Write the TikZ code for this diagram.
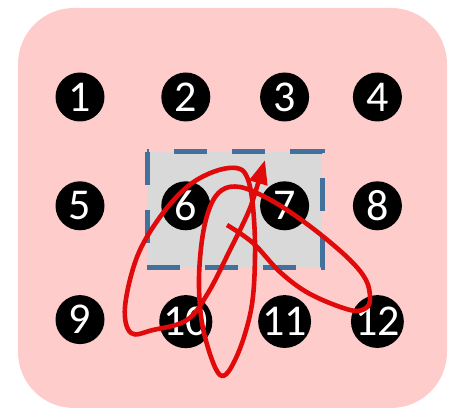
\documentclass[tikz,border=0pt]{standalone}
\usepackage{fontspec}
\setmainfont{Carlito}
\usetikzlibrary{positioning,arrows.meta}
\definecolor{padpink}{RGB}{255,204,204}
\definecolor{selgray}{RGB}{217,217,217}
\definecolor{selblue}{RGB}{65,113,156}
\definecolor{strokered}{RGB}{225,10,10}

\begin{document}
\begin{tikzpicture}[x=0.5pt, y=-0.5pt,
  dot/.style={circle, fill=black, text=white, minimum size=24.5pt, inner sep=0pt,
    font=\fontsize{22}{22}\selectfont},
  selbox/.style={draw=selblue, fill=selgray, line width=2.5pt, dash pattern=on 16.5pt off 12.5pt},
  stroke/.style={draw=strokered, line width=2.3pt, -{Triangle[length=12pt,width=9pt]}}]
  \useasboundingbox (0,0) rectangle (456,410);
  \fill[padpink, rounded corners=28pt] (18,8) rectangle (447,408);
  \draw[selbox] (147,152) rectangle (322,268);

  \node[dot] (n1) at (80,97) {1};
  \node[dot] (n2) [right=28pt of n1] {2};
  \node[dot] (n3) [right=24.5pt of n2] {3};
  \node[dot] (n4) [right=21.5pt of n3] {4};

  \node[dot] (n5) [below=29.5pt of n1] {5};
  \node[dot] (n6) [below=29.5pt of n2] {6};
  \node[dot] (n7) [below=29.5pt of n3] {7};
  \node[dot] (n8) [below=29.5pt of n4] {8};

  \node[dot] (n9) [below=32pt of n5] {9};
  \node[dot] (n10) [below=32pt of n6] {10};
  \node[dot] (n11) [below=32pt of n7] {11};
  \node[dot] (n12) [below=32pt of n8] {12};

  \draw[stroke] plot[smooth, tension=0.6] coordinates {
    (227,225) (253,243) (280,272) (310,294) (350,310) (366,308) (370,298)
    (366,280) (350,260) (320,234) (290,212) (265,197) (240,187) (222,190)
    (210,207) (202,240) (199,287) (204,333) (220,375) (236,358) (251,310)
    (255,257) (253,207) (247,177) (236,168) (213,172) (187,187) (160,217)
    (137,257) (125,307) (131,333) (153,330) (187,320) (208,293) (230,250)
    (248,213) (256,190) (265,160)};
\end{tikzpicture}
\end{document}
